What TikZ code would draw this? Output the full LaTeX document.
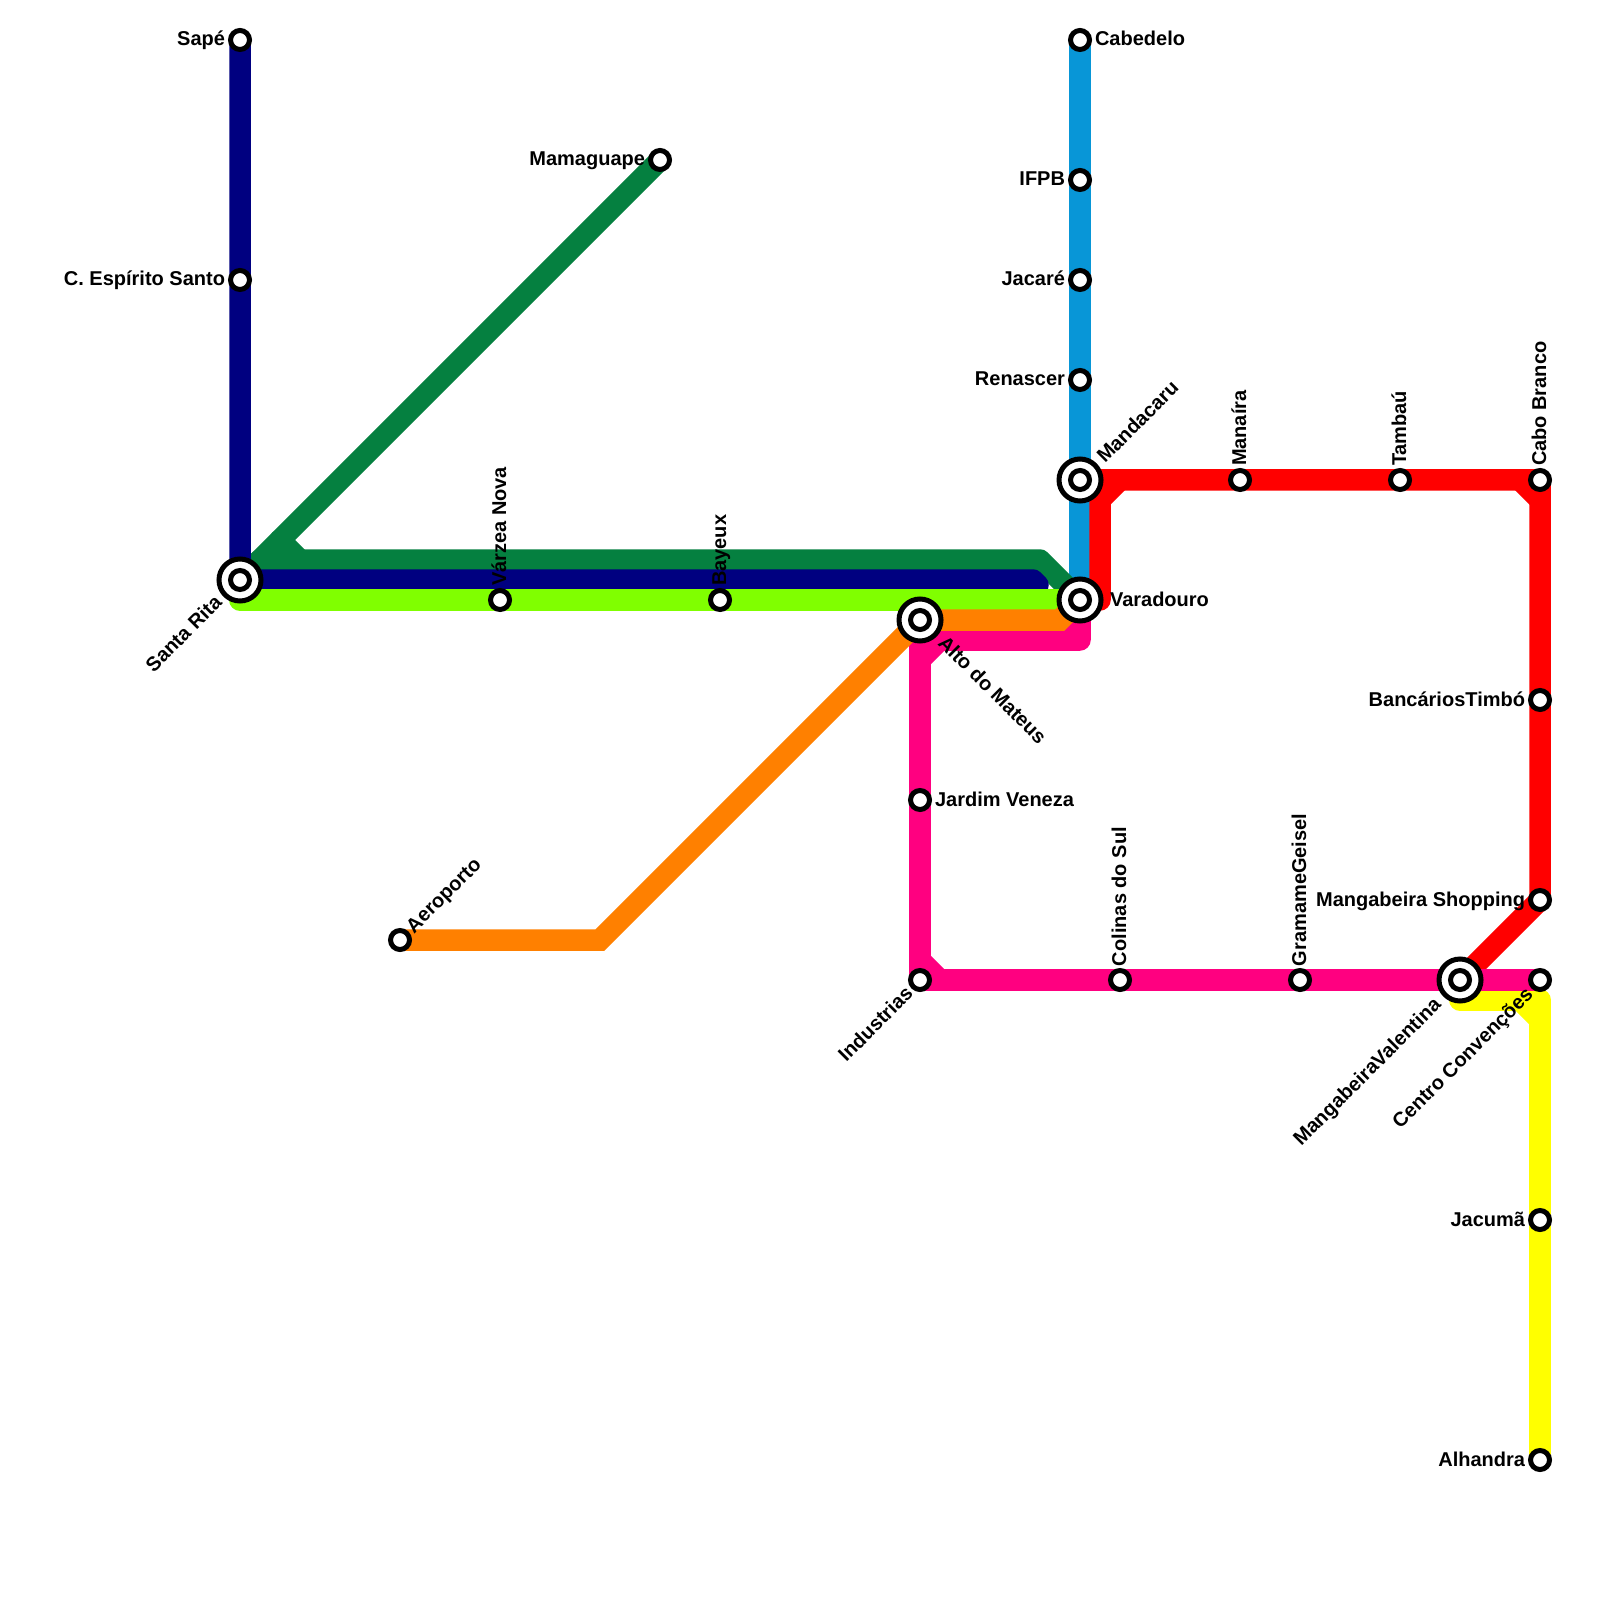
\documentclass[tikz,border=0pt]{standalone}
\usepackage{fontspec}
\setmainfont{Liberation Sans}
\usetikzlibrary{backgrounds}
\definecolor{linenavy}{HTML}{000080}
\definecolor{linegreen}{HTML}{058040}
\definecolor{linelime}{HTML}{80FF00}
\definecolor{lineorange}{HTML}{FF8000}
\definecolor{linepink}{HTML}{FF0080}
\definecolor{linered}{HTML}{FF0000}
\definecolor{lineyellow}{HTML}{FFFF00}
\definecolor{linecyan}{HTML}{0896D7}
\tikzset{
  metro/.style={line width=0.215cm,line join=round,line cap=round},
  station/.style={circle,draw=black,fill=white,line width=0.05cm,minimum size=0.19cm,inner sep=0pt,outer sep=0pt},
  hub/.style={circle,draw=black,fill=white,line width=0.05cm,minimum size=0.42cm,inner sep=0pt,outer sep=0pt},
  stationname/.style={font=\fontsize{5.69pt}{7pt}\selectfont\bfseries,inner sep=0pt,outer sep=0pt},
}
\begin{document}
\begin{tikzpicture}
        \useasboundingbox (0,0) rectangle (16,-16);
        % interchanges
        \node[hub] (santaouter) at (2.4,-5.8) {};
        \node[hub] (altoouter) at (9.2,-6.2) {};
        \node[hub] (mandacaruouter) at (10.8,-4.8) {};
        \node[hub] (varadouroouter) at (10.8,-6) {};
        \node[hub] (valentinaouter) at (14.6,-9.8) {};
        % stations
        \node[station] (sape) at (2.4,-0.4) {};
        \node[station] (espirito) at (2.4,-2.8) {};
        \node[station] (santa) at (2.4,-5.8) {};
        \node[station] (mamaguape) at (6.6,-1.6) {};
        \node[station] (varzea) at (5,-6) {};
        \node[station] (bayeux) at (7.2,-6) {};
        \node[station] (aeroporto) at (4,-9.4) {};
        \node[station] (alto) at (9.2,-6.2) {};
        \node[station] (veneza) at (9.2,-8) {};
        \node[station] (industrias) at (9.2,-9.8) {};
        \node[station] (colinas) at (11.2,-9.8) {};
        \node[station] (geisel) at (13,-9.8) {};
        \node[station] (valentina) at (14.6,-9.8) {};
        \node[station] (convencoes) at (15.4,-9.8) {};
        \node[station] (cabedelo) at (10.8,-0.4) {};
        \node[station] (ifpb) at (10.8,-1.8) {};
        \node[station] (jacare) at (10.8,-2.8) {};
        \node[station] (renascer) at (10.8,-3.8) {};
        \node[station] (mandacaru) at (10.8,-4.8) {};
        \node[station] (varadouro) at (10.8,-6) {};
        \node[station] (manaira) at (12.4,-4.8) {};
        \node[station] (tambau) at (14,-4.8) {};
        \node[station] (cabo) at (15.4,-4.8) {};
        \node[station] (timbo) at (15.4,-7) {};
        \node[station] (shopping) at (15.4,-9) {};
        \node[station] (jacuma) at (15.4,-12.2) {};
        \node[station] (alhandra) at (15.4,-14.6) {};
        % bends
        \coordinate (greenstart) at (2.6,-5.6);
        \coordinate (greenfork) at (2.8,-5.4);
        \coordinate (greenleft) at (3,-5.6);
        \coordinate (greenright) at (10.4,-5.6);
        \coordinate (navyend) at (10.33,-5.8);
        \coordinate (navytip) at (10.38,-5.85);
        \coordinate (limecorner) at (2.4,-6);
        \coordinate (orangeleft) at (6,-9.4);
        \coordinate (orangeright) at (10.6,-6.2);
        \coordinate (pinktop) at (9.2,-6.6);
        \coordinate (pinkleft) at (9.4,-6.4);
        \coordinate (pinkcorner) at (10.8,-6.4);
        \coordinate (pinkfill) at (10.6,-6.4);
        \coordinate (pinkup) at (10.8,-6.2);
        \coordinate (pinkbottom) at (9.2,-9.6);
        \coordinate (pinkright) at (9.4,-9.8);
        \coordinate (redfoot) at (11,-6);
        \coordinate (redup) at (11,-5);
        \coordinate (redtop) at (11.2,-4.8);
        \coordinate (redchamfer) at (15.2,-4.8);
        \coordinate (reddown) at (15.4,-5);
        \coordinate (yellowleft) at (14.6,-10);
        \coordinate (yellowcorner) at (15.4,-10);
        \coordinate (yellowchamfer) at (15.2,-10);
        \coordinate (yellowdown) at (15.4,-10.2);
        % lines
        \begin{scope}[on background layer]
            \draw[metro,linecyan] (cabedelo.center) -- (varadouro.center);
            \draw[metro,linered] (mandacaru.center) -- (cabo.center) -- (shopping.center) -- (valentina.center);
            \draw[metro,linered] (varadouro.center) -- (redfoot) -- (redup) -- (redtop);
            \draw[metro,linered] (redchamfer) -- (reddown);
            \draw[metro,linegreen] (santa.center) -- (mamaguape.center);
            \draw[metro,linegreen] (santa.center) -- (greenstart) -- (greenright) -- (varadouro.center);
            \draw[metro,linegreen] (greenfork) -- (greenleft);
            \draw[metro,linenavy] (sape.center) -- (santa.center) -- (navyend) -- (navytip);
            \draw[metro,linelime] (santa.center) -- (limecorner) -- (varadouro.center);
            \draw[metro,lineyellow] (valentina.center) -- (yellowleft) -- (yellowcorner) -- (alhandra.center);
            \draw[metro,lineyellow] (yellowchamfer) -- (yellowdown);
            \draw[metro,linepink] (alto.center) -- (industrias.center) -- (convencoes.center);
            \draw[metro,linepink] (pinkbottom) -- (pinkright);
            \draw[metro,linepink] (pinktop) -- (pinkleft) -- (pinkcorner) -- (varadouro.center);
            \draw[metro,linepink] (pinkfill) -- (pinkup);
            \draw[metro,lineorange,line join=miter] (aeroporto.center) -- (orangeleft) -- (alto.center) -- (orangeright) -- (varadouro.center);
        \end{scope}
        % names
        \node[stationname,anchor=base east] (sapename) at (2.25,-0.46) {Sapé};
        \node[stationname,anchor=base east] (espiritoname) at (2.25,-2.86) {C. Espírito Santo};
        \node[stationname,anchor=base east] (mamaguapename) at (6.45,-1.66) {Mamaguape};
        \node[stationname,anchor=base east,rotate=45] (santaname) at (2.23,-6.04) {Santa Rita};
        \node[stationname,anchor=base west,rotate=90] (varzeaname) at (5.06,-5.86) {Várzea Nova};
        \node[stationname,anchor=base west,rotate=90] (bayeuxname) at (7.26,-5.86) {Bayeux};
        \node[stationname,anchor=base west,rotate=45] (aeroportoname) at (4.14,-9.34) {Aeroporto};
        \node[stationname,anchor=base west,rotate=-45] (altoname) at (9.37,-6.44) {Alto do Mateus};
        \node[stationname,anchor=base west] (venezaname) at (9.35,-8.06) {Jardim Veneza};
        \node[stationname,anchor=base east,rotate=45] (industriasname) at (9.14,-9.95) {Industrias};
        \node[stationname,anchor=base west,rotate=90] (colinasname) at (11.26,-9.66) {Colinas do Sul};
        \node[stationname,anchor=base west,rotate=90] (geiselname) at (13.06,-9.66) {GramameGeisel};
        \node[stationname,anchor=base east,rotate=45] (valentinaname) at (14.42,-10.06) {MangabeiraValentina};
        \node[stationname,anchor=base east,rotate=45] (convencoesname) at (15.34,-9.96) {Centro Convenções};
        \node[stationname,anchor=base west] (cabedeloname) at (10.95,-0.46) {Cabedelo};
        \node[stationname,anchor=base east] (ifpbname) at (10.65,-1.86) {IFPB};
        \node[stationname,anchor=base east] (jacarename) at (10.65,-2.86) {Jacaré};
        \node[stationname,anchor=base east] (renascername) at (10.65,-3.86) {Renascer};
        \node[stationname,anchor=base west,rotate=45] (mandacaruname) at (11.05,-4.64) {Mandacaru};
        \node[stationname,anchor=base west] (varadouroname) at (11.1,-6.06) {Varadouro};
        \node[stationname,anchor=base west,rotate=90] (manairaname) at (12.46,-4.66) {Manaíra};
        \node[stationname,anchor=base west,rotate=90] (tambauname) at (14.06,-4.66) {Tambaú};
        \node[stationname,anchor=base west,rotate=90] (caboname) at (15.46,-4.66) {Cabo Branco};
        \node[stationname,anchor=base east] (timboname) at (15.25,-7.06) {BancáriosTimbó};
        \node[stationname,anchor=base east] (shoppingname) at (15.25,-9.06) {Mangabeira Shopping};
        \node[stationname,anchor=base east] (jacumaname) at (15.25,-12.26) {Jacumã};
        \node[stationname,anchor=base east] (alhandraname) at (15.25,-14.66) {Alhandra};
    \end{tikzpicture}
\end{document}
